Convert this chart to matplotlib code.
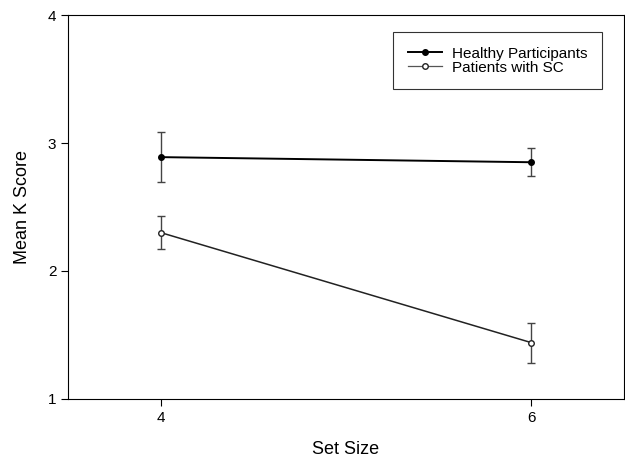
import matplotlib
matplotlib.use("Agg")
import matplotlib.pyplot as plt
from matplotlib.lines import Line2D

plt.rcParams['font.family'] = ['Liberation Sans', 'DejaVu Sans']

set_size = [4, 6]
healthy = [2.89, 2.85]
healthy_err_lo = [0.195, 0.105]
healthy_err_hi = [0.20, 0.11]
patients = [2.30, 1.44]
patients_err_lo = [0.125, 0.16]
patients_err_hi = [0.13, 0.155]

fig = plt.figure(figsize=(6.25, 4.59), dpi=100)
ax = fig.add_axes([0.109, 0.131, 0.889, 0.836])

ax.errorbar(set_size, healthy, yerr=[healthy_err_lo, healthy_err_hi],
            color='black', lw=1.4, marker='o', ms=4, mfc='black', mec='black',
            ecolor='#444444', elinewidth=1.0, capsize=3, capthick=1.0)
ax.errorbar(set_size, patients, yerr=[patients_err_lo, patients_err_hi],
            color='#222222', lw=1.1, marker='o', ms=4, mfc='white', mec='#222222',
            ecolor='#444444', elinewidth=1.0, capsize=3, capthick=1.0)

ax.set_xlim(3.5, 6.5)
ax.set_ylim(1, 4)
ax.set_xticks([4, 6])
ax.set_yticks([1, 2, 3, 4])
ax.tick_params(direction='out', length=5, labelsize=11, width=0.8)
ax.set_xlabel('Set Size', fontsize=13, labelpad=12)
ax.set_ylabel('Mean K Score', fontsize=13, labelpad=12)

handles = [
    Line2D([], [], color='black', lw=1.4, marker='o', ms=4, mfc='black', mec='black'),
    Line2D([], [], color='#555555', lw=0.9, marker='o', ms=4, mfc='white', mec='#222222'),
]
leg = ax.legend(handles, ['Healthy Participants', 'Patients with SC'],
                loc='upper right', bbox_to_anchor=(0.960, 0.956), fontsize=11,
                frameon=True, fancybox=False, edgecolor='black',
                handlelength=2.2, borderpad=0.95, labelspacing=0.0,
                handletextpad=0.65, borderaxespad=0)
leg.get_frame().set_linewidth(0.8)

fig.savefig('out.png', dpi=100)
